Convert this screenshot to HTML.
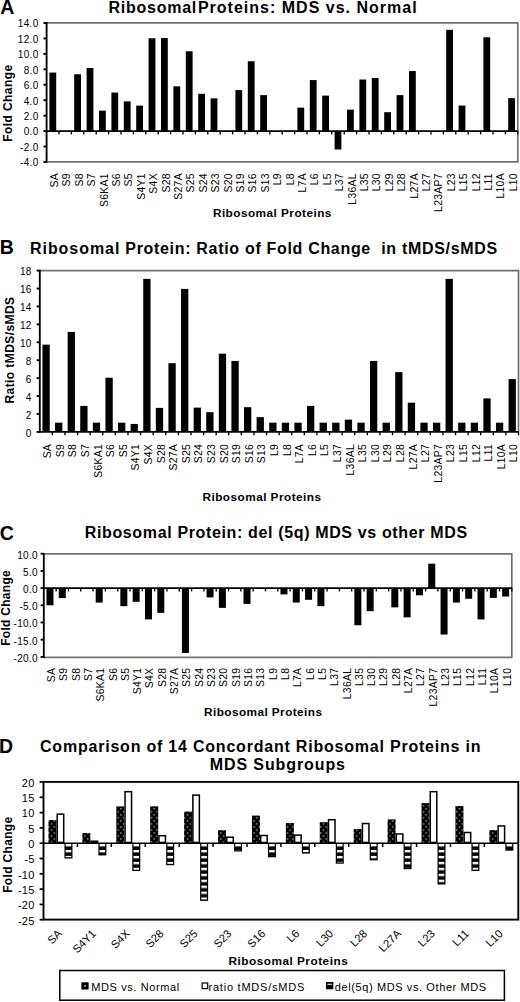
<!DOCTYPE html>
<html><head><meta charset="utf-8"><style>
html,body{margin:0;padding:0;background:#fff;width:520px;height:1002px;overflow:hidden;}
svg{display:block;font-family:"Liberation Sans",sans-serif;}
</style></head><body>
<svg width="520" height="1002" viewBox="0 0 520 1002" font-family="Liberation Sans, sans-serif">
<defs>
<pattern id="dots" patternUnits="userSpaceOnUse" width="5.55" height="6.05" x="0" y="0"><rect width="100" height="100" fill="#000"/><rect x="0.85" y="0.4" width="1.4" height="1.4" fill="#aaa"/><rect x="3.63" y="3.43" width="1.4" height="1.4" fill="#aaa"/></pattern>
<pattern id="stripes" patternUnits="userSpaceOnUse" width="20" height="5.95" x="0" y="844.0"><rect width="20" height="100" fill="#000"/><rect x="0" y="0" width="20" height="2.4" fill="#fff"/></pattern>
</defs>
<rect width="520" height="1002" fill="#fff"/>
<rect x="49.40" y="72.58" width="6.80" height="58.52" fill="#000"/>
<rect x="74.20" y="74.28" width="6.80" height="56.82" fill="#000"/>
<rect x="86.60" y="68.03" width="6.80" height="63.07" fill="#000"/>
<rect x="99.00" y="110.64" width="6.80" height="20.46" fill="#000"/>
<rect x="111.40" y="92.58" width="6.80" height="38.52" fill="#000"/>
<rect x="123.80" y="101.38" width="6.80" height="29.72" fill="#000"/>
<rect x="136.20" y="105.62" width="6.80" height="25.48" fill="#000"/>
<rect x="148.60" y="38.23" width="6.80" height="92.87" fill="#000"/>
<rect x="161.00" y="38.00" width="6.80" height="93.10" fill="#000"/>
<rect x="173.40" y="86.32" width="6.80" height="44.78" fill="#000"/>
<rect x="185.80" y="51.28" width="6.80" height="79.82" fill="#000"/>
<rect x="198.20" y="93.81" width="6.80" height="37.29" fill="#000"/>
<rect x="210.60" y="98.37" width="6.80" height="32.73" fill="#000"/>
<rect x="235.40" y="90.11" width="6.80" height="40.99" fill="#000"/>
<rect x="247.80" y="61.23" width="6.80" height="69.87" fill="#000"/>
<rect x="260.20" y="95.12" width="6.80" height="35.98" fill="#000"/>
<rect x="297.40" y="107.63" width="6.80" height="23.47" fill="#000"/>
<rect x="309.80" y="80.07" width="6.80" height="51.03" fill="#000"/>
<rect x="322.20" y="95.59" width="6.80" height="35.51" fill="#000"/>
<rect x="334.60" y="131.10" width="6.80" height="18.37" fill="#000"/>
<rect x="347.00" y="109.64" width="6.80" height="21.46" fill="#000"/>
<rect x="359.40" y="79.53" width="6.80" height="51.57" fill="#000"/>
<rect x="371.80" y="78.06" width="6.80" height="53.04" fill="#000"/>
<rect x="384.20" y="112.19" width="6.80" height="18.91" fill="#000"/>
<rect x="396.60" y="95.12" width="6.80" height="35.98" fill="#000"/>
<rect x="409.00" y="71.04" width="6.80" height="60.06" fill="#000"/>
<rect x="446.20" y="29.81" width="6.80" height="101.29" fill="#000"/>
<rect x="458.60" y="105.55" width="6.80" height="25.55" fill="#000"/>
<rect x="483.40" y="37.30" width="6.80" height="93.80" fill="#000"/>
<rect x="508.20" y="98.14" width="6.80" height="32.96" fill="#000"/>
<path d="M46.60,22.80 H517.80 V161.80 H46.60" fill="none" stroke="#707070" stroke-width="1.7" stroke-linejoin="miter"/>
<line x1="45.80" y1="131.10" x2="517.80" y2="131.10" stroke="#000" stroke-width="1.85"/>
<line x1="59.00" y1="131.10" x2="59.00" y2="134.40" stroke="#000" stroke-width="1.35"/>
<line x1="71.40" y1="131.10" x2="71.40" y2="134.40" stroke="#000" stroke-width="1.35"/>
<line x1="83.80" y1="131.10" x2="83.80" y2="134.40" stroke="#000" stroke-width="1.35"/>
<line x1="96.20" y1="131.10" x2="96.20" y2="134.40" stroke="#000" stroke-width="1.35"/>
<line x1="108.60" y1="131.10" x2="108.60" y2="134.40" stroke="#000" stroke-width="1.35"/>
<line x1="121.00" y1="131.10" x2="121.00" y2="134.40" stroke="#000" stroke-width="1.35"/>
<line x1="133.40" y1="131.10" x2="133.40" y2="134.40" stroke="#000" stroke-width="1.35"/>
<line x1="145.80" y1="131.10" x2="145.80" y2="134.40" stroke="#000" stroke-width="1.35"/>
<line x1="158.20" y1="131.10" x2="158.20" y2="134.40" stroke="#000" stroke-width="1.35"/>
<line x1="170.60" y1="131.10" x2="170.60" y2="134.40" stroke="#000" stroke-width="1.35"/>
<line x1="183.00" y1="131.10" x2="183.00" y2="134.40" stroke="#000" stroke-width="1.35"/>
<line x1="195.40" y1="131.10" x2="195.40" y2="134.40" stroke="#000" stroke-width="1.35"/>
<line x1="207.80" y1="131.10" x2="207.80" y2="134.40" stroke="#000" stroke-width="1.35"/>
<line x1="220.20" y1="131.10" x2="220.20" y2="134.40" stroke="#000" stroke-width="1.35"/>
<line x1="232.60" y1="131.10" x2="232.60" y2="134.40" stroke="#000" stroke-width="1.35"/>
<line x1="245.00" y1="131.10" x2="245.00" y2="134.40" stroke="#000" stroke-width="1.35"/>
<line x1="257.40" y1="131.10" x2="257.40" y2="134.40" stroke="#000" stroke-width="1.35"/>
<line x1="269.80" y1="131.10" x2="269.80" y2="134.40" stroke="#000" stroke-width="1.35"/>
<line x1="282.20" y1="131.10" x2="282.20" y2="134.40" stroke="#000" stroke-width="1.35"/>
<line x1="294.60" y1="131.10" x2="294.60" y2="134.40" stroke="#000" stroke-width="1.35"/>
<line x1="307.00" y1="131.10" x2="307.00" y2="134.40" stroke="#000" stroke-width="1.35"/>
<line x1="319.40" y1="131.10" x2="319.40" y2="134.40" stroke="#000" stroke-width="1.35"/>
<line x1="331.80" y1="131.10" x2="331.80" y2="134.40" stroke="#000" stroke-width="1.35"/>
<line x1="344.20" y1="131.10" x2="344.20" y2="134.40" stroke="#000" stroke-width="1.35"/>
<line x1="356.60" y1="131.10" x2="356.60" y2="134.40" stroke="#000" stroke-width="1.35"/>
<line x1="369.00" y1="131.10" x2="369.00" y2="134.40" stroke="#000" stroke-width="1.35"/>
<line x1="381.40" y1="131.10" x2="381.40" y2="134.40" stroke="#000" stroke-width="1.35"/>
<line x1="393.80" y1="131.10" x2="393.80" y2="134.40" stroke="#000" stroke-width="1.35"/>
<line x1="406.20" y1="131.10" x2="406.20" y2="134.40" stroke="#000" stroke-width="1.35"/>
<line x1="418.60" y1="131.10" x2="418.60" y2="134.40" stroke="#000" stroke-width="1.35"/>
<line x1="431.00" y1="131.10" x2="431.00" y2="134.40" stroke="#000" stroke-width="1.35"/>
<line x1="443.40" y1="131.10" x2="443.40" y2="134.40" stroke="#000" stroke-width="1.35"/>
<line x1="455.80" y1="131.10" x2="455.80" y2="134.40" stroke="#000" stroke-width="1.35"/>
<line x1="468.20" y1="131.10" x2="468.20" y2="134.40" stroke="#000" stroke-width="1.35"/>
<line x1="480.60" y1="131.10" x2="480.60" y2="134.40" stroke="#000" stroke-width="1.35"/>
<line x1="493.00" y1="131.10" x2="493.00" y2="134.40" stroke="#000" stroke-width="1.35"/>
<line x1="505.40" y1="131.10" x2="505.40" y2="134.40" stroke="#000" stroke-width="1.35"/>
<line x1="517.80" y1="131.10" x2="517.80" y2="134.40" stroke="#000" stroke-width="1.35"/>
<line x1="46.60" y1="22.00" x2="46.60" y2="162.60" stroke="#000" stroke-width="1.85"/>
<line x1="43.40" y1="23.02" x2="46.60" y2="23.02" stroke="#000" stroke-width="1.85"/>
<text x="38.50" y="27.32" font-size="10" text-anchor="end" letter-spacing="0.3">14.0</text>
<line x1="43.40" y1="38.46" x2="46.60" y2="38.46" stroke="#000" stroke-width="1.85"/>
<text x="38.50" y="42.76" font-size="10" text-anchor="end" letter-spacing="0.3">12.0</text>
<line x1="43.40" y1="53.90" x2="46.60" y2="53.90" stroke="#000" stroke-width="1.85"/>
<text x="38.50" y="58.20" font-size="10" text-anchor="end" letter-spacing="0.3">10.0</text>
<line x1="43.40" y1="69.34" x2="46.60" y2="69.34" stroke="#000" stroke-width="1.85"/>
<text x="38.50" y="73.64" font-size="10" text-anchor="end" letter-spacing="0.3">8.0</text>
<line x1="43.40" y1="84.78" x2="46.60" y2="84.78" stroke="#000" stroke-width="1.85"/>
<text x="38.50" y="89.08" font-size="10" text-anchor="end" letter-spacing="0.3">6.0</text>
<line x1="43.40" y1="100.22" x2="46.60" y2="100.22" stroke="#000" stroke-width="1.85"/>
<text x="38.50" y="104.52" font-size="10" text-anchor="end" letter-spacing="0.3">4.0</text>
<line x1="43.40" y1="115.66" x2="46.60" y2="115.66" stroke="#000" stroke-width="1.85"/>
<text x="38.50" y="119.96" font-size="10" text-anchor="end" letter-spacing="0.3">2.0</text>
<line x1="43.40" y1="131.10" x2="46.60" y2="131.10" stroke="#000" stroke-width="1.85"/>
<text x="38.50" y="135.40" font-size="10" text-anchor="end" letter-spacing="0.3">0.0</text>
<line x1="43.40" y1="146.54" x2="46.60" y2="146.54" stroke="#000" stroke-width="1.85"/>
<text x="38.50" y="150.84" font-size="10" text-anchor="end" letter-spacing="0.3">-2.0</text>
<line x1="43.40" y1="161.98" x2="46.60" y2="161.98" stroke="#000" stroke-width="1.85"/>
<text x="38.50" y="166.28" font-size="10" text-anchor="end" letter-spacing="0.3">-4.0</text>
<text x="58.00" y="173.10" font-size="10.4" text-anchor="end" transform="rotate(-90 58.00 173.10)" letter-spacing="0.3">SA</text>
<text x="70.40" y="173.10" font-size="10.4" text-anchor="end" transform="rotate(-90 70.40 173.10)" letter-spacing="0.3">S9</text>
<text x="82.80" y="173.10" font-size="10.4" text-anchor="end" transform="rotate(-90 82.80 173.10)" letter-spacing="0.3">S8</text>
<text x="95.20" y="173.10" font-size="10.4" text-anchor="end" transform="rotate(-90 95.20 173.10)" letter-spacing="0.3">S7</text>
<text x="107.60" y="173.10" font-size="10.4" text-anchor="end" transform="rotate(-90 107.60 173.10)" letter-spacing="0.3">S6KA1</text>
<text x="120.00" y="173.10" font-size="10.4" text-anchor="end" transform="rotate(-90 120.00 173.10)" letter-spacing="0.3">S6</text>
<text x="132.40" y="173.10" font-size="10.4" text-anchor="end" transform="rotate(-90 132.40 173.10)" letter-spacing="0.3">S5</text>
<text x="144.80" y="173.10" font-size="10.4" text-anchor="end" transform="rotate(-90 144.80 173.10)" letter-spacing="0.3">S4Y1</text>
<text x="157.20" y="173.10" font-size="10.4" text-anchor="end" transform="rotate(-90 157.20 173.10)" letter-spacing="0.3">S4X</text>
<text x="169.60" y="173.10" font-size="10.4" text-anchor="end" transform="rotate(-90 169.60 173.10)" letter-spacing="0.3">S28</text>
<text x="182.00" y="173.10" font-size="10.4" text-anchor="end" transform="rotate(-90 182.00 173.10)" letter-spacing="0.3">S27A</text>
<text x="194.40" y="173.10" font-size="10.4" text-anchor="end" transform="rotate(-90 194.40 173.10)" letter-spacing="0.3">S25</text>
<text x="206.80" y="173.10" font-size="10.4" text-anchor="end" transform="rotate(-90 206.80 173.10)" letter-spacing="0.3">S24</text>
<text x="219.20" y="173.10" font-size="10.4" text-anchor="end" transform="rotate(-90 219.20 173.10)" letter-spacing="0.3">S23</text>
<text x="231.60" y="173.10" font-size="10.4" text-anchor="end" transform="rotate(-90 231.60 173.10)" letter-spacing="0.3">S20</text>
<text x="244.00" y="173.10" font-size="10.4" text-anchor="end" transform="rotate(-90 244.00 173.10)" letter-spacing="0.3">S19</text>
<text x="256.40" y="173.10" font-size="10.4" text-anchor="end" transform="rotate(-90 256.40 173.10)" letter-spacing="0.3">S16</text>
<text x="268.80" y="173.10" font-size="10.4" text-anchor="end" transform="rotate(-90 268.80 173.10)" letter-spacing="0.3">S13</text>
<text x="281.20" y="173.10" font-size="10.4" text-anchor="end" transform="rotate(-90 281.20 173.10)" letter-spacing="0.3">L9</text>
<text x="293.60" y="173.10" font-size="10.4" text-anchor="end" transform="rotate(-90 293.60 173.10)" letter-spacing="0.3">L8</text>
<text x="306.00" y="173.10" font-size="10.4" text-anchor="end" transform="rotate(-90 306.00 173.10)" letter-spacing="0.3">L7A</text>
<text x="318.40" y="173.10" font-size="10.4" text-anchor="end" transform="rotate(-90 318.40 173.10)" letter-spacing="0.3">L6</text>
<text x="330.80" y="173.10" font-size="10.4" text-anchor="end" transform="rotate(-90 330.80 173.10)" letter-spacing="0.3">L5</text>
<text x="343.20" y="173.10" font-size="10.4" text-anchor="end" transform="rotate(-90 343.20 173.10)" letter-spacing="0.3">L37</text>
<text x="355.60" y="173.10" font-size="10.4" text-anchor="end" transform="rotate(-90 355.60 173.10)" letter-spacing="0.3">L36AL</text>
<text x="368.00" y="173.10" font-size="10.4" text-anchor="end" transform="rotate(-90 368.00 173.10)" letter-spacing="0.3">L35</text>
<text x="380.40" y="173.10" font-size="10.4" text-anchor="end" transform="rotate(-90 380.40 173.10)" letter-spacing="0.3">L30</text>
<text x="392.80" y="173.10" font-size="10.4" text-anchor="end" transform="rotate(-90 392.80 173.10)" letter-spacing="0.3">L29</text>
<text x="405.20" y="173.10" font-size="10.4" text-anchor="end" transform="rotate(-90 405.20 173.10)" letter-spacing="0.3">L28</text>
<text x="417.60" y="173.10" font-size="10.4" text-anchor="end" transform="rotate(-90 417.60 173.10)" letter-spacing="0.3">L27A</text>
<text x="430.00" y="173.10" font-size="10.4" text-anchor="end" transform="rotate(-90 430.00 173.10)" letter-spacing="0.3">L27</text>
<text x="442.40" y="173.10" font-size="10.4" text-anchor="end" transform="rotate(-90 442.40 173.10)" letter-spacing="0.3">L23AP7</text>
<text x="454.80" y="173.10" font-size="10.4" text-anchor="end" transform="rotate(-90 454.80 173.10)" letter-spacing="0.3">L23</text>
<text x="467.20" y="173.10" font-size="10.4" text-anchor="end" transform="rotate(-90 467.20 173.10)" letter-spacing="0.3">L15</text>
<text x="479.60" y="173.10" font-size="10.4" text-anchor="end" transform="rotate(-90 479.60 173.10)" letter-spacing="0.3">L12</text>
<text x="492.00" y="173.10" font-size="10.4" text-anchor="end" transform="rotate(-90 492.00 173.10)" letter-spacing="0.3">L11</text>
<text x="504.40" y="173.10" font-size="10.4" text-anchor="end" transform="rotate(-90 504.40 173.10)" letter-spacing="0.3">L10A</text>
<text x="516.80" y="173.10" font-size="10.4" text-anchor="end" transform="rotate(-90 516.80 173.10)" letter-spacing="0.3">L10</text>
<rect x="42.45" y="344.63" width="7.30" height="87.27" fill="#000"/>
<rect x="55.05" y="422.67" width="7.30" height="9.23" fill="#000"/>
<rect x="67.64" y="331.91" width="7.30" height="99.99" fill="#000"/>
<rect x="80.24" y="405.92" width="7.30" height="25.98" fill="#000"/>
<rect x="92.84" y="422.67" width="7.30" height="9.23" fill="#000"/>
<rect x="105.44" y="377.69" width="7.30" height="54.21" fill="#000"/>
<rect x="118.03" y="422.67" width="7.30" height="9.23" fill="#000"/>
<rect x="130.63" y="423.93" width="7.30" height="7.97" fill="#000"/>
<rect x="143.23" y="278.86" width="7.30" height="153.04" fill="#000"/>
<rect x="155.82" y="407.89" width="7.30" height="24.01" fill="#000"/>
<rect x="168.42" y="363.18" width="7.30" height="68.72" fill="#000"/>
<rect x="181.02" y="288.90" width="7.30" height="143.00" fill="#000"/>
<rect x="193.62" y="407.62" width="7.30" height="24.28" fill="#000"/>
<rect x="206.21" y="412.19" width="7.30" height="19.71" fill="#000"/>
<rect x="218.81" y="353.68" width="7.30" height="78.22" fill="#000"/>
<rect x="231.41" y="360.94" width="7.30" height="70.96" fill="#000"/>
<rect x="244.01" y="407.17" width="7.30" height="24.73" fill="#000"/>
<rect x="256.60" y="417.12" width="7.30" height="14.78" fill="#000"/>
<rect x="269.20" y="422.67" width="7.30" height="9.23" fill="#000"/>
<rect x="281.80" y="422.67" width="7.30" height="9.23" fill="#000"/>
<rect x="294.40" y="422.67" width="7.30" height="9.23" fill="#000"/>
<rect x="306.99" y="405.92" width="7.30" height="25.98" fill="#000"/>
<rect x="319.59" y="422.67" width="7.30" height="9.23" fill="#000"/>
<rect x="332.19" y="422.67" width="7.30" height="9.23" fill="#000"/>
<rect x="344.79" y="419.62" width="7.30" height="12.28" fill="#000"/>
<rect x="357.38" y="422.67" width="7.30" height="9.23" fill="#000"/>
<rect x="369.98" y="360.94" width="7.30" height="70.96" fill="#000"/>
<rect x="382.58" y="422.67" width="7.30" height="9.23" fill="#000"/>
<rect x="395.18" y="372.14" width="7.30" height="59.76" fill="#000"/>
<rect x="407.77" y="402.69" width="7.30" height="29.21" fill="#000"/>
<rect x="420.37" y="422.67" width="7.30" height="9.23" fill="#000"/>
<rect x="432.97" y="422.67" width="7.30" height="9.23" fill="#000"/>
<rect x="445.56" y="278.86" width="7.30" height="153.04" fill="#000"/>
<rect x="458.16" y="422.67" width="7.30" height="9.23" fill="#000"/>
<rect x="470.76" y="422.67" width="7.30" height="9.23" fill="#000"/>
<rect x="483.36" y="398.39" width="7.30" height="33.51" fill="#000"/>
<rect x="495.95" y="422.67" width="7.30" height="9.23" fill="#000"/>
<rect x="508.55" y="379.13" width="7.30" height="52.77" fill="#000"/>
<path d="M39.80,270.60 H518.50 V431.90" fill="none" stroke="#707070" stroke-width="1.7" stroke-linejoin="miter"/>
<line x1="39.00" y1="431.90" x2="518.50" y2="431.90" stroke="#000" stroke-width="1.85"/>
<line x1="52.40" y1="431.90" x2="52.40" y2="435.20" stroke="#000" stroke-width="1.35"/>
<line x1="64.99" y1="431.90" x2="64.99" y2="435.20" stroke="#000" stroke-width="1.35"/>
<line x1="77.59" y1="431.90" x2="77.59" y2="435.20" stroke="#000" stroke-width="1.35"/>
<line x1="90.19" y1="431.90" x2="90.19" y2="435.20" stroke="#000" stroke-width="1.35"/>
<line x1="102.79" y1="431.90" x2="102.79" y2="435.20" stroke="#000" stroke-width="1.35"/>
<line x1="115.38" y1="431.90" x2="115.38" y2="435.20" stroke="#000" stroke-width="1.35"/>
<line x1="127.98" y1="431.90" x2="127.98" y2="435.20" stroke="#000" stroke-width="1.35"/>
<line x1="140.58" y1="431.90" x2="140.58" y2="435.20" stroke="#000" stroke-width="1.35"/>
<line x1="153.18" y1="431.90" x2="153.18" y2="435.20" stroke="#000" stroke-width="1.35"/>
<line x1="165.77" y1="431.90" x2="165.77" y2="435.20" stroke="#000" stroke-width="1.35"/>
<line x1="178.37" y1="431.90" x2="178.37" y2="435.20" stroke="#000" stroke-width="1.35"/>
<line x1="190.97" y1="431.90" x2="190.97" y2="435.20" stroke="#000" stroke-width="1.35"/>
<line x1="203.57" y1="431.90" x2="203.57" y2="435.20" stroke="#000" stroke-width="1.35"/>
<line x1="216.16" y1="431.90" x2="216.16" y2="435.20" stroke="#000" stroke-width="1.35"/>
<line x1="228.76" y1="431.90" x2="228.76" y2="435.20" stroke="#000" stroke-width="1.35"/>
<line x1="241.36" y1="431.90" x2="241.36" y2="435.20" stroke="#000" stroke-width="1.35"/>
<line x1="253.96" y1="431.90" x2="253.96" y2="435.20" stroke="#000" stroke-width="1.35"/>
<line x1="266.55" y1="431.90" x2="266.55" y2="435.20" stroke="#000" stroke-width="1.35"/>
<line x1="279.15" y1="431.90" x2="279.15" y2="435.20" stroke="#000" stroke-width="1.35"/>
<line x1="291.75" y1="431.90" x2="291.75" y2="435.20" stroke="#000" stroke-width="1.35"/>
<line x1="304.34" y1="431.90" x2="304.34" y2="435.20" stroke="#000" stroke-width="1.35"/>
<line x1="316.94" y1="431.90" x2="316.94" y2="435.20" stroke="#000" stroke-width="1.35"/>
<line x1="329.54" y1="431.90" x2="329.54" y2="435.20" stroke="#000" stroke-width="1.35"/>
<line x1="342.14" y1="431.90" x2="342.14" y2="435.20" stroke="#000" stroke-width="1.35"/>
<line x1="354.73" y1="431.90" x2="354.73" y2="435.20" stroke="#000" stroke-width="1.35"/>
<line x1="367.33" y1="431.90" x2="367.33" y2="435.20" stroke="#000" stroke-width="1.35"/>
<line x1="379.93" y1="431.90" x2="379.93" y2="435.20" stroke="#000" stroke-width="1.35"/>
<line x1="392.53" y1="431.90" x2="392.53" y2="435.20" stroke="#000" stroke-width="1.35"/>
<line x1="405.12" y1="431.90" x2="405.12" y2="435.20" stroke="#000" stroke-width="1.35"/>
<line x1="417.72" y1="431.90" x2="417.72" y2="435.20" stroke="#000" stroke-width="1.35"/>
<line x1="430.32" y1="431.90" x2="430.32" y2="435.20" stroke="#000" stroke-width="1.35"/>
<line x1="442.92" y1="431.90" x2="442.92" y2="435.20" stroke="#000" stroke-width="1.35"/>
<line x1="455.51" y1="431.90" x2="455.51" y2="435.20" stroke="#000" stroke-width="1.35"/>
<line x1="468.11" y1="431.90" x2="468.11" y2="435.20" stroke="#000" stroke-width="1.35"/>
<line x1="480.71" y1="431.90" x2="480.71" y2="435.20" stroke="#000" stroke-width="1.35"/>
<line x1="493.31" y1="431.90" x2="493.31" y2="435.20" stroke="#000" stroke-width="1.35"/>
<line x1="505.90" y1="431.90" x2="505.90" y2="435.20" stroke="#000" stroke-width="1.35"/>
<line x1="518.50" y1="431.90" x2="518.50" y2="435.20" stroke="#000" stroke-width="1.35"/>
<line x1="39.80" y1="269.80" x2="39.80" y2="432.70" stroke="#000" stroke-width="1.85"/>
<line x1="36.60" y1="270.62" x2="39.80" y2="270.62" stroke="#000" stroke-width="1.85"/>
<text x="31.70" y="275.42" font-size="10" text-anchor="end" letter-spacing="0.3">18</text>
<line x1="36.60" y1="288.54" x2="39.80" y2="288.54" stroke="#000" stroke-width="1.85"/>
<text x="31.70" y="293.34" font-size="10" text-anchor="end" letter-spacing="0.3">16</text>
<line x1="36.60" y1="306.46" x2="39.80" y2="306.46" stroke="#000" stroke-width="1.85"/>
<text x="31.70" y="311.26" font-size="10" text-anchor="end" letter-spacing="0.3">14</text>
<line x1="36.60" y1="324.38" x2="39.80" y2="324.38" stroke="#000" stroke-width="1.85"/>
<text x="31.70" y="329.18" font-size="10" text-anchor="end" letter-spacing="0.3">12</text>
<line x1="36.60" y1="342.30" x2="39.80" y2="342.30" stroke="#000" stroke-width="1.85"/>
<text x="31.70" y="347.10" font-size="10" text-anchor="end" letter-spacing="0.3">10</text>
<line x1="36.60" y1="360.22" x2="39.80" y2="360.22" stroke="#000" stroke-width="1.85"/>
<text x="31.70" y="365.02" font-size="10" text-anchor="end" letter-spacing="0.3">8</text>
<line x1="36.60" y1="378.14" x2="39.80" y2="378.14" stroke="#000" stroke-width="1.85"/>
<text x="31.70" y="382.94" font-size="10" text-anchor="end" letter-spacing="0.3">6</text>
<line x1="36.60" y1="396.06" x2="39.80" y2="396.06" stroke="#000" stroke-width="1.85"/>
<text x="31.70" y="400.86" font-size="10" text-anchor="end" letter-spacing="0.3">4</text>
<line x1="36.60" y1="413.98" x2="39.80" y2="413.98" stroke="#000" stroke-width="1.85"/>
<text x="31.70" y="418.78" font-size="10" text-anchor="end" letter-spacing="0.3">2</text>
<line x1="36.60" y1="431.90" x2="39.80" y2="431.90" stroke="#000" stroke-width="1.85"/>
<text x="31.70" y="436.70" font-size="10" text-anchor="end" letter-spacing="0.3">0</text>
<text x="51.30" y="443.90" font-size="10.4" text-anchor="end" transform="rotate(-90 51.30 443.90)" letter-spacing="0.3">SA</text>
<text x="63.90" y="443.90" font-size="10.4" text-anchor="end" transform="rotate(-90 63.90 443.90)" letter-spacing="0.3">S9</text>
<text x="76.49" y="443.90" font-size="10.4" text-anchor="end" transform="rotate(-90 76.49 443.90)" letter-spacing="0.3">S8</text>
<text x="89.09" y="443.90" font-size="10.4" text-anchor="end" transform="rotate(-90 89.09 443.90)" letter-spacing="0.3">S7</text>
<text x="101.69" y="443.90" font-size="10.4" text-anchor="end" transform="rotate(-90 101.69 443.90)" letter-spacing="0.3">S6KA1</text>
<text x="114.29" y="443.90" font-size="10.4" text-anchor="end" transform="rotate(-90 114.29 443.90)" letter-spacing="0.3">S6</text>
<text x="126.88" y="443.90" font-size="10.4" text-anchor="end" transform="rotate(-90 126.88 443.90)" letter-spacing="0.3">S5</text>
<text x="139.48" y="443.90" font-size="10.4" text-anchor="end" transform="rotate(-90 139.48 443.90)" letter-spacing="0.3">S4Y1</text>
<text x="152.08" y="443.90" font-size="10.4" text-anchor="end" transform="rotate(-90 152.08 443.90)" letter-spacing="0.3">S4X</text>
<text x="164.67" y="443.90" font-size="10.4" text-anchor="end" transform="rotate(-90 164.67 443.90)" letter-spacing="0.3">S28</text>
<text x="177.27" y="443.90" font-size="10.4" text-anchor="end" transform="rotate(-90 177.27 443.90)" letter-spacing="0.3">S27A</text>
<text x="189.87" y="443.90" font-size="10.4" text-anchor="end" transform="rotate(-90 189.87 443.90)" letter-spacing="0.3">S25</text>
<text x="202.47" y="443.90" font-size="10.4" text-anchor="end" transform="rotate(-90 202.47 443.90)" letter-spacing="0.3">S24</text>
<text x="215.06" y="443.90" font-size="10.4" text-anchor="end" transform="rotate(-90 215.06 443.90)" letter-spacing="0.3">S23</text>
<text x="227.66" y="443.90" font-size="10.4" text-anchor="end" transform="rotate(-90 227.66 443.90)" letter-spacing="0.3">S20</text>
<text x="240.26" y="443.90" font-size="10.4" text-anchor="end" transform="rotate(-90 240.26 443.90)" letter-spacing="0.3">S19</text>
<text x="252.86" y="443.90" font-size="10.4" text-anchor="end" transform="rotate(-90 252.86 443.90)" letter-spacing="0.3">S16</text>
<text x="265.45" y="443.90" font-size="10.4" text-anchor="end" transform="rotate(-90 265.45 443.90)" letter-spacing="0.3">S13</text>
<text x="278.05" y="443.90" font-size="10.4" text-anchor="end" transform="rotate(-90 278.05 443.90)" letter-spacing="0.3">L9</text>
<text x="290.65" y="443.90" font-size="10.4" text-anchor="end" transform="rotate(-90 290.65 443.90)" letter-spacing="0.3">L8</text>
<text x="303.25" y="443.90" font-size="10.4" text-anchor="end" transform="rotate(-90 303.25 443.90)" letter-spacing="0.3">L7A</text>
<text x="315.84" y="443.90" font-size="10.4" text-anchor="end" transform="rotate(-90 315.84 443.90)" letter-spacing="0.3">L6</text>
<text x="328.44" y="443.90" font-size="10.4" text-anchor="end" transform="rotate(-90 328.44 443.90)" letter-spacing="0.3">L5</text>
<text x="341.04" y="443.90" font-size="10.4" text-anchor="end" transform="rotate(-90 341.04 443.90)" letter-spacing="0.3">L37</text>
<text x="353.64" y="443.90" font-size="10.4" text-anchor="end" transform="rotate(-90 353.64 443.90)" letter-spacing="0.3">L36AL</text>
<text x="366.23" y="443.90" font-size="10.4" text-anchor="end" transform="rotate(-90 366.23 443.90)" letter-spacing="0.3">L35</text>
<text x="378.83" y="443.90" font-size="10.4" text-anchor="end" transform="rotate(-90 378.83 443.90)" letter-spacing="0.3">L30</text>
<text x="391.43" y="443.90" font-size="10.4" text-anchor="end" transform="rotate(-90 391.43 443.90)" letter-spacing="0.3">L29</text>
<text x="404.02" y="443.90" font-size="10.4" text-anchor="end" transform="rotate(-90 404.02 443.90)" letter-spacing="0.3">L28</text>
<text x="416.62" y="443.90" font-size="10.4" text-anchor="end" transform="rotate(-90 416.62 443.90)" letter-spacing="0.3">L27A</text>
<text x="429.22" y="443.90" font-size="10.4" text-anchor="end" transform="rotate(-90 429.22 443.90)" letter-spacing="0.3">L27</text>
<text x="441.82" y="443.90" font-size="10.4" text-anchor="end" transform="rotate(-90 441.82 443.90)" letter-spacing="0.3">L23AP7</text>
<text x="454.41" y="443.90" font-size="10.4" text-anchor="end" transform="rotate(-90 454.41 443.90)" letter-spacing="0.3">L23</text>
<text x="467.01" y="443.90" font-size="10.4" text-anchor="end" transform="rotate(-90 467.01 443.90)" letter-spacing="0.3">L15</text>
<text x="479.61" y="443.90" font-size="10.4" text-anchor="end" transform="rotate(-90 479.61 443.90)" letter-spacing="0.3">L12</text>
<text x="492.21" y="443.90" font-size="10.4" text-anchor="end" transform="rotate(-90 492.21 443.90)" letter-spacing="0.3">L11</text>
<text x="504.80" y="443.90" font-size="10.4" text-anchor="end" transform="rotate(-90 504.80 443.90)" letter-spacing="0.3">L10A</text>
<text x="517.40" y="443.90" font-size="10.4" text-anchor="end" transform="rotate(-90 517.40 443.90)" letter-spacing="0.3">L10</text>
<rect x="46.46" y="588.10" width="7.00" height="17.20" fill="#000"/>
<rect x="58.77" y="588.10" width="7.00" height="9.98" fill="#000"/>
<rect x="95.72" y="588.10" width="7.00" height="14.45" fill="#000"/>
<rect x="120.35" y="588.10" width="7.00" height="18.06" fill="#000"/>
<rect x="132.67" y="588.10" width="7.00" height="13.76" fill="#000"/>
<rect x="144.98" y="588.10" width="7.00" height="31.30" fill="#000"/>
<rect x="157.30" y="588.10" width="7.00" height="24.77" fill="#000"/>
<rect x="181.93" y="588.10" width="7.00" height="64.84" fill="#000"/>
<rect x="206.56" y="588.10" width="7.00" height="9.29" fill="#000"/>
<rect x="218.88" y="588.10" width="7.00" height="19.78" fill="#000"/>
<rect x="243.51" y="588.10" width="7.00" height="15.82" fill="#000"/>
<rect x="280.46" y="588.10" width="7.00" height="6.30" fill="#000"/>
<rect x="292.77" y="588.10" width="7.00" height="14.45" fill="#000"/>
<rect x="305.09" y="588.10" width="7.00" height="11.70" fill="#000"/>
<rect x="317.41" y="588.10" width="7.00" height="18.06" fill="#000"/>
<rect x="354.35" y="588.10" width="7.00" height="37.15" fill="#000"/>
<rect x="366.67" y="588.10" width="7.00" height="23.05" fill="#000"/>
<rect x="391.30" y="588.10" width="7.00" height="19.26" fill="#000"/>
<rect x="403.62" y="588.10" width="7.00" height="29.24" fill="#000"/>
<rect x="415.93" y="588.10" width="7.00" height="7.22" fill="#000"/>
<rect x="428.25" y="563.68" width="7.00" height="24.42" fill="#000"/>
<rect x="440.56" y="588.10" width="7.00" height="46.44" fill="#000"/>
<rect x="452.88" y="588.10" width="7.00" height="14.45" fill="#000"/>
<rect x="465.19" y="588.10" width="7.00" height="10.66" fill="#000"/>
<rect x="477.51" y="588.10" width="7.00" height="31.30" fill="#000"/>
<rect x="489.83" y="588.10" width="7.00" height="9.80" fill="#000"/>
<rect x="502.14" y="588.10" width="7.00" height="8.43" fill="#000"/>
<path d="M43.80,553.80 H511.80 V657.30 H43.80" fill="none" stroke="#707070" stroke-width="1.7" stroke-linejoin="miter"/>
<line x1="43.00" y1="588.10" x2="511.80" y2="588.10" stroke="#000" stroke-width="1.85"/>
<line x1="56.12" y1="588.10" x2="56.12" y2="591.40" stroke="#000" stroke-width="1.35"/>
<line x1="68.43" y1="588.10" x2="68.43" y2="591.40" stroke="#000" stroke-width="1.35"/>
<line x1="80.75" y1="588.10" x2="80.75" y2="591.40" stroke="#000" stroke-width="1.35"/>
<line x1="93.06" y1="588.10" x2="93.06" y2="591.40" stroke="#000" stroke-width="1.35"/>
<line x1="105.38" y1="588.10" x2="105.38" y2="591.40" stroke="#000" stroke-width="1.35"/>
<line x1="117.69" y1="588.10" x2="117.69" y2="591.40" stroke="#000" stroke-width="1.35"/>
<line x1="130.01" y1="588.10" x2="130.01" y2="591.40" stroke="#000" stroke-width="1.35"/>
<line x1="142.33" y1="588.10" x2="142.33" y2="591.40" stroke="#000" stroke-width="1.35"/>
<line x1="154.64" y1="588.10" x2="154.64" y2="591.40" stroke="#000" stroke-width="1.35"/>
<line x1="166.96" y1="588.10" x2="166.96" y2="591.40" stroke="#000" stroke-width="1.35"/>
<line x1="179.27" y1="588.10" x2="179.27" y2="591.40" stroke="#000" stroke-width="1.35"/>
<line x1="191.59" y1="588.10" x2="191.59" y2="591.40" stroke="#000" stroke-width="1.35"/>
<line x1="203.91" y1="588.10" x2="203.91" y2="591.40" stroke="#000" stroke-width="1.35"/>
<line x1="216.22" y1="588.10" x2="216.22" y2="591.40" stroke="#000" stroke-width="1.35"/>
<line x1="228.54" y1="588.10" x2="228.54" y2="591.40" stroke="#000" stroke-width="1.35"/>
<line x1="240.85" y1="588.10" x2="240.85" y2="591.40" stroke="#000" stroke-width="1.35"/>
<line x1="253.17" y1="588.10" x2="253.17" y2="591.40" stroke="#000" stroke-width="1.35"/>
<line x1="265.48" y1="588.10" x2="265.48" y2="591.40" stroke="#000" stroke-width="1.35"/>
<line x1="277.80" y1="588.10" x2="277.80" y2="591.40" stroke="#000" stroke-width="1.35"/>
<line x1="290.12" y1="588.10" x2="290.12" y2="591.40" stroke="#000" stroke-width="1.35"/>
<line x1="302.43" y1="588.10" x2="302.43" y2="591.40" stroke="#000" stroke-width="1.35"/>
<line x1="314.75" y1="588.10" x2="314.75" y2="591.40" stroke="#000" stroke-width="1.35"/>
<line x1="327.06" y1="588.10" x2="327.06" y2="591.40" stroke="#000" stroke-width="1.35"/>
<line x1="339.38" y1="588.10" x2="339.38" y2="591.40" stroke="#000" stroke-width="1.35"/>
<line x1="351.69" y1="588.10" x2="351.69" y2="591.40" stroke="#000" stroke-width="1.35"/>
<line x1="364.01" y1="588.10" x2="364.01" y2="591.40" stroke="#000" stroke-width="1.35"/>
<line x1="376.33" y1="588.10" x2="376.33" y2="591.40" stroke="#000" stroke-width="1.35"/>
<line x1="388.64" y1="588.10" x2="388.64" y2="591.40" stroke="#000" stroke-width="1.35"/>
<line x1="400.96" y1="588.10" x2="400.96" y2="591.40" stroke="#000" stroke-width="1.35"/>
<line x1="413.27" y1="588.10" x2="413.27" y2="591.40" stroke="#000" stroke-width="1.35"/>
<line x1="425.59" y1="588.10" x2="425.59" y2="591.40" stroke="#000" stroke-width="1.35"/>
<line x1="437.91" y1="588.10" x2="437.91" y2="591.40" stroke="#000" stroke-width="1.35"/>
<line x1="450.22" y1="588.10" x2="450.22" y2="591.40" stroke="#000" stroke-width="1.35"/>
<line x1="462.54" y1="588.10" x2="462.54" y2="591.40" stroke="#000" stroke-width="1.35"/>
<line x1="474.85" y1="588.10" x2="474.85" y2="591.40" stroke="#000" stroke-width="1.35"/>
<line x1="487.17" y1="588.10" x2="487.17" y2="591.40" stroke="#000" stroke-width="1.35"/>
<line x1="499.48" y1="588.10" x2="499.48" y2="591.40" stroke="#000" stroke-width="1.35"/>
<line x1="511.80" y1="588.10" x2="511.80" y2="591.40" stroke="#000" stroke-width="1.35"/>
<line x1="43.80" y1="553.00" x2="43.80" y2="658.10" stroke="#000" stroke-width="1.85"/>
<line x1="40.60" y1="553.70" x2="43.80" y2="553.70" stroke="#000" stroke-width="1.85"/>
<text x="37.90" y="558.50" font-size="10" text-anchor="end" letter-spacing="0.3">10.0</text>
<line x1="40.60" y1="570.90" x2="43.80" y2="570.90" stroke="#000" stroke-width="1.85"/>
<text x="37.90" y="575.70" font-size="10" text-anchor="end" letter-spacing="0.3">5.0</text>
<line x1="40.60" y1="588.10" x2="43.80" y2="588.10" stroke="#000" stroke-width="1.85"/>
<text x="37.90" y="592.90" font-size="10" text-anchor="end" letter-spacing="0.3">0.0</text>
<line x1="40.60" y1="605.30" x2="43.80" y2="605.30" stroke="#000" stroke-width="1.85"/>
<text x="37.90" y="610.10" font-size="10" text-anchor="end" letter-spacing="0.3">-5.0</text>
<line x1="40.60" y1="622.50" x2="43.80" y2="622.50" stroke="#000" stroke-width="1.85"/>
<text x="37.90" y="627.30" font-size="10" text-anchor="end" letter-spacing="0.3">-10.0</text>
<line x1="40.60" y1="639.70" x2="43.80" y2="639.70" stroke="#000" stroke-width="1.85"/>
<text x="37.90" y="644.50" font-size="10" text-anchor="end" letter-spacing="0.3">-15.0</text>
<line x1="40.60" y1="656.90" x2="43.80" y2="656.90" stroke="#000" stroke-width="1.85"/>
<text x="37.90" y="661.70" font-size="10" text-anchor="end" letter-spacing="0.3">-20.0</text>
<text x="54.96" y="667.70" font-size="10.4" text-anchor="end" transform="rotate(-90 54.96 667.70)" letter-spacing="0.3">SA</text>
<text x="67.27" y="667.70" font-size="10.4" text-anchor="end" transform="rotate(-90 67.27 667.70)" letter-spacing="0.3">S9</text>
<text x="79.59" y="667.70" font-size="10.4" text-anchor="end" transform="rotate(-90 79.59 667.70)" letter-spacing="0.3">S8</text>
<text x="91.91" y="667.70" font-size="10.4" text-anchor="end" transform="rotate(-90 91.91 667.70)" letter-spacing="0.3">S7</text>
<text x="104.22" y="667.70" font-size="10.4" text-anchor="end" transform="rotate(-90 104.22 667.70)" letter-spacing="0.3">S6KA1</text>
<text x="116.54" y="667.70" font-size="10.4" text-anchor="end" transform="rotate(-90 116.54 667.70)" letter-spacing="0.3">S6</text>
<text x="128.85" y="667.70" font-size="10.4" text-anchor="end" transform="rotate(-90 128.85 667.70)" letter-spacing="0.3">S5</text>
<text x="141.17" y="667.70" font-size="10.4" text-anchor="end" transform="rotate(-90 141.17 667.70)" letter-spacing="0.3">S4Y1</text>
<text x="153.48" y="667.70" font-size="10.4" text-anchor="end" transform="rotate(-90 153.48 667.70)" letter-spacing="0.3">S4X</text>
<text x="165.80" y="667.70" font-size="10.4" text-anchor="end" transform="rotate(-90 165.80 667.70)" letter-spacing="0.3">S28</text>
<text x="178.12" y="667.70" font-size="10.4" text-anchor="end" transform="rotate(-90 178.12 667.70)" letter-spacing="0.3">S27A</text>
<text x="190.43" y="667.70" font-size="10.4" text-anchor="end" transform="rotate(-90 190.43 667.70)" letter-spacing="0.3">S25</text>
<text x="202.75" y="667.70" font-size="10.4" text-anchor="end" transform="rotate(-90 202.75 667.70)" letter-spacing="0.3">S24</text>
<text x="215.06" y="667.70" font-size="10.4" text-anchor="end" transform="rotate(-90 215.06 667.70)" letter-spacing="0.3">S23</text>
<text x="227.38" y="667.70" font-size="10.4" text-anchor="end" transform="rotate(-90 227.38 667.70)" letter-spacing="0.3">S20</text>
<text x="239.69" y="667.70" font-size="10.4" text-anchor="end" transform="rotate(-90 239.69 667.70)" letter-spacing="0.3">S19</text>
<text x="252.01" y="667.70" font-size="10.4" text-anchor="end" transform="rotate(-90 252.01 667.70)" letter-spacing="0.3">S16</text>
<text x="264.33" y="667.70" font-size="10.4" text-anchor="end" transform="rotate(-90 264.33 667.70)" letter-spacing="0.3">S13</text>
<text x="276.64" y="667.70" font-size="10.4" text-anchor="end" transform="rotate(-90 276.64 667.70)" letter-spacing="0.3">L9</text>
<text x="288.96" y="667.70" font-size="10.4" text-anchor="end" transform="rotate(-90 288.96 667.70)" letter-spacing="0.3">L8</text>
<text x="301.27" y="667.70" font-size="10.4" text-anchor="end" transform="rotate(-90 301.27 667.70)" letter-spacing="0.3">L7A</text>
<text x="313.59" y="667.70" font-size="10.4" text-anchor="end" transform="rotate(-90 313.59 667.70)" letter-spacing="0.3">L6</text>
<text x="325.91" y="667.70" font-size="10.4" text-anchor="end" transform="rotate(-90 325.91 667.70)" letter-spacing="0.3">L5</text>
<text x="338.22" y="667.70" font-size="10.4" text-anchor="end" transform="rotate(-90 338.22 667.70)" letter-spacing="0.3">L37</text>
<text x="350.54" y="667.70" font-size="10.4" text-anchor="end" transform="rotate(-90 350.54 667.70)" letter-spacing="0.3">L36AL</text>
<text x="362.85" y="667.70" font-size="10.4" text-anchor="end" transform="rotate(-90 362.85 667.70)" letter-spacing="0.3">L35</text>
<text x="375.17" y="667.70" font-size="10.4" text-anchor="end" transform="rotate(-90 375.17 667.70)" letter-spacing="0.3">L30</text>
<text x="387.48" y="667.70" font-size="10.4" text-anchor="end" transform="rotate(-90 387.48 667.70)" letter-spacing="0.3">L29</text>
<text x="399.80" y="667.70" font-size="10.4" text-anchor="end" transform="rotate(-90 399.80 667.70)" letter-spacing="0.3">L28</text>
<text x="412.12" y="667.70" font-size="10.4" text-anchor="end" transform="rotate(-90 412.12 667.70)" letter-spacing="0.3">L27A</text>
<text x="424.43" y="667.70" font-size="10.4" text-anchor="end" transform="rotate(-90 424.43 667.70)" letter-spacing="0.3">L27</text>
<text x="436.75" y="667.70" font-size="10.4" text-anchor="end" transform="rotate(-90 436.75 667.70)" letter-spacing="0.3">L23AP7</text>
<text x="449.06" y="667.70" font-size="10.4" text-anchor="end" transform="rotate(-90 449.06 667.70)" letter-spacing="0.3">L23</text>
<text x="461.38" y="667.70" font-size="10.4" text-anchor="end" transform="rotate(-90 461.38 667.70)" letter-spacing="0.3">L15</text>
<text x="473.69" y="667.70" font-size="10.4" text-anchor="end" transform="rotate(-90 473.69 667.70)" letter-spacing="0.3">L12</text>
<text x="486.01" y="667.70" font-size="10.4" text-anchor="end" transform="rotate(-90 486.01 667.70)" letter-spacing="0.3">L11</text>
<text x="498.33" y="667.70" font-size="10.4" text-anchor="end" transform="rotate(-90 498.33 667.70)" letter-spacing="0.3">L10A</text>
<text x="510.64" y="667.70" font-size="10.4" text-anchor="end" transform="rotate(-90 510.64 667.70)" letter-spacing="0.3">L10</text>
<rect x="48.46" y="820.01" width="8.00" height="23.19" fill="url(#dots)"/>
<rect x="57.21" y="814.15" width="6.50" height="28.30" fill="#fff" stroke="#000" stroke-width="1.5"/>
<rect x="64.46" y="843.20" width="8.00" height="15.30" fill="#000"/>
<rect x="65.66" y="843.20" width="5.60" height="14.00" fill="url(#stripes)"/>
<rect x="82.37" y="833.10" width="8.00" height="10.10" fill="url(#dots)"/>
<rect x="91.12" y="841.23" width="6.50" height="1.22" fill="#fff" stroke="#000" stroke-width="1.5"/>
<rect x="98.37" y="843.20" width="8.00" height="12.24" fill="#000"/>
<rect x="99.57" y="843.20" width="5.60" height="10.94" fill="url(#stripes)"/>
<rect x="116.29" y="806.39" width="8.00" height="36.81" fill="url(#dots)"/>
<rect x="125.04" y="791.69" width="6.50" height="50.76" fill="#fff" stroke="#000" stroke-width="1.5"/>
<rect x="132.29" y="843.20" width="8.00" height="27.85" fill="#000"/>
<rect x="133.49" y="843.20" width="5.60" height="26.55" fill="url(#stripes)"/>
<rect x="150.20" y="806.30" width="8.00" height="36.90" fill="url(#dots)"/>
<rect x="158.95" y="835.75" width="6.50" height="6.70" fill="#fff" stroke="#000" stroke-width="1.5"/>
<rect x="166.20" y="843.20" width="8.00" height="22.03" fill="#000"/>
<rect x="167.40" y="843.20" width="5.60" height="20.73" fill="url(#stripes)"/>
<rect x="184.11" y="811.56" width="8.00" height="31.64" fill="url(#dots)"/>
<rect x="192.86" y="795.11" width="6.50" height="47.34" fill="#fff" stroke="#000" stroke-width="1.5"/>
<rect x="200.11" y="843.20" width="8.00" height="57.68" fill="#000"/>
<rect x="201.31" y="843.20" width="5.60" height="56.38" fill="url(#stripes)"/>
<rect x="218.03" y="830.23" width="8.00" height="12.97" fill="url(#dots)"/>
<rect x="226.78" y="837.22" width="6.50" height="5.23" fill="#fff" stroke="#000" stroke-width="1.5"/>
<rect x="234.03" y="843.20" width="8.00" height="8.26" fill="#000"/>
<rect x="235.23" y="843.20" width="5.60" height="6.96" fill="url(#stripes)"/>
<rect x="251.94" y="815.51" width="8.00" height="27.69" fill="url(#dots)"/>
<rect x="260.69" y="835.50" width="6.50" height="6.95" fill="#fff" stroke="#000" stroke-width="1.5"/>
<rect x="267.94" y="843.20" width="8.00" height="14.08" fill="#000"/>
<rect x="269.14" y="843.20" width="5.60" height="12.78" fill="url(#stripes)"/>
<rect x="285.86" y="822.97" width="8.00" height="20.23" fill="url(#dots)"/>
<rect x="294.61" y="835.08" width="6.50" height="7.37" fill="#fff" stroke="#000" stroke-width="1.5"/>
<rect x="301.86" y="843.20" width="8.00" height="10.40" fill="#000"/>
<rect x="303.06" y="843.20" width="5.60" height="9.10" fill="url(#stripes)"/>
<rect x="319.77" y="822.18" width="8.00" height="21.02" fill="url(#dots)"/>
<rect x="328.52" y="819.71" width="6.50" height="22.74" fill="#fff" stroke="#000" stroke-width="1.5"/>
<rect x="335.77" y="843.20" width="8.00" height="20.50" fill="#000"/>
<rect x="336.97" y="843.20" width="5.60" height="19.20" fill="url(#stripes)"/>
<rect x="353.69" y="828.94" width="8.00" height="14.26" fill="url(#dots)"/>
<rect x="362.44" y="823.54" width="6.50" height="18.91" fill="#fff" stroke="#000" stroke-width="1.5"/>
<rect x="369.69" y="843.20" width="8.00" height="17.14" fill="#000"/>
<rect x="370.89" y="843.20" width="5.60" height="15.84" fill="url(#stripes)"/>
<rect x="387.60" y="819.39" width="8.00" height="23.81" fill="url(#dots)"/>
<rect x="396.35" y="833.97" width="6.50" height="8.48" fill="#fff" stroke="#000" stroke-width="1.5"/>
<rect x="403.60" y="843.20" width="8.00" height="26.01" fill="#000"/>
<rect x="404.80" y="843.20" width="5.60" height="24.71" fill="url(#stripes)"/>
<rect x="421.51" y="803.05" width="8.00" height="40.15" fill="url(#dots)"/>
<rect x="430.26" y="791.69" width="6.50" height="50.76" fill="#fff" stroke="#000" stroke-width="1.5"/>
<rect x="437.51" y="843.20" width="8.00" height="41.31" fill="#000"/>
<rect x="438.71" y="843.20" width="5.60" height="40.01" fill="url(#stripes)"/>
<rect x="455.43" y="806.02" width="8.00" height="37.18" fill="url(#dots)"/>
<rect x="464.18" y="832.51" width="6.50" height="9.94" fill="#fff" stroke="#000" stroke-width="1.5"/>
<rect x="471.43" y="843.20" width="8.00" height="27.85" fill="#000"/>
<rect x="472.63" y="843.20" width="5.60" height="26.55" fill="url(#stripes)"/>
<rect x="489.34" y="830.13" width="8.00" height="13.07" fill="url(#dots)"/>
<rect x="498.09" y="825.93" width="6.50" height="16.52" fill="#fff" stroke="#000" stroke-width="1.5"/>
<rect x="505.34" y="843.20" width="8.00" height="7.50" fill="#000"/>
<rect x="506.54" y="843.20" width="5.60" height="6.20" fill="url(#stripes)"/>
<rect x="43.50" y="781.90" width="474.80" height="137.70" fill="none" stroke="#000" stroke-width="1.9"/>
<line x1="43.50" y1="843.20" x2="518.30" y2="843.20" stroke="#000" stroke-width="1.6"/>
<line x1="77.41" y1="843.20" x2="77.41" y2="847.00" stroke="#000" stroke-width="1.5"/>
<line x1="111.33" y1="843.20" x2="111.33" y2="847.00" stroke="#000" stroke-width="1.5"/>
<line x1="145.24" y1="843.20" x2="145.24" y2="847.00" stroke="#000" stroke-width="1.5"/>
<line x1="179.16" y1="843.20" x2="179.16" y2="847.00" stroke="#000" stroke-width="1.5"/>
<line x1="213.07" y1="843.20" x2="213.07" y2="847.00" stroke="#000" stroke-width="1.5"/>
<line x1="246.99" y1="843.20" x2="246.99" y2="847.00" stroke="#000" stroke-width="1.5"/>
<line x1="280.90" y1="843.20" x2="280.90" y2="847.00" stroke="#000" stroke-width="1.5"/>
<line x1="314.81" y1="843.20" x2="314.81" y2="847.00" stroke="#000" stroke-width="1.5"/>
<line x1="348.73" y1="843.20" x2="348.73" y2="847.00" stroke="#000" stroke-width="1.5"/>
<line x1="382.64" y1="843.20" x2="382.64" y2="847.00" stroke="#000" stroke-width="1.5"/>
<line x1="416.56" y1="843.20" x2="416.56" y2="847.00" stroke="#000" stroke-width="1.5"/>
<line x1="450.47" y1="843.20" x2="450.47" y2="847.00" stroke="#000" stroke-width="1.5"/>
<line x1="484.39" y1="843.20" x2="484.39" y2="847.00" stroke="#000" stroke-width="1.5"/>
<line x1="39.60" y1="782.00" x2="43.50" y2="782.00" stroke="#000" stroke-width="1.7"/>
<text x="34.60" y="786.80" font-size="11" text-anchor="end" letter-spacing="0.25">20</text>
<line x1="39.60" y1="797.30" x2="43.50" y2="797.30" stroke="#000" stroke-width="1.7"/>
<text x="34.60" y="802.10" font-size="11" text-anchor="end" letter-spacing="0.25">15</text>
<line x1="39.60" y1="812.60" x2="43.50" y2="812.60" stroke="#000" stroke-width="1.7"/>
<text x="34.60" y="817.40" font-size="11" text-anchor="end" letter-spacing="0.25">10</text>
<line x1="39.60" y1="827.90" x2="43.50" y2="827.90" stroke="#000" stroke-width="1.7"/>
<text x="34.60" y="832.70" font-size="11" text-anchor="end" letter-spacing="0.25">5</text>
<line x1="39.60" y1="843.20" x2="43.50" y2="843.20" stroke="#000" stroke-width="1.7"/>
<text x="34.60" y="848.00" font-size="11" text-anchor="end" letter-spacing="0.25">0</text>
<line x1="39.60" y1="858.50" x2="43.50" y2="858.50" stroke="#000" stroke-width="1.7"/>
<text x="34.60" y="863.30" font-size="11" text-anchor="end" letter-spacing="0.25">-5</text>
<line x1="39.60" y1="873.80" x2="43.50" y2="873.80" stroke="#000" stroke-width="1.7"/>
<text x="34.60" y="878.60" font-size="11" text-anchor="end" letter-spacing="0.25">-10</text>
<line x1="39.60" y1="889.10" x2="43.50" y2="889.10" stroke="#000" stroke-width="1.7"/>
<text x="34.60" y="893.90" font-size="11" text-anchor="end" letter-spacing="0.25">-15</text>
<line x1="39.60" y1="904.40" x2="43.50" y2="904.40" stroke="#000" stroke-width="1.7"/>
<text x="34.60" y="909.20" font-size="11" text-anchor="end" letter-spacing="0.25">-20</text>
<line x1="39.60" y1="919.70" x2="43.50" y2="919.70" stroke="#000" stroke-width="1.7"/>
<text x="34.60" y="924.50" font-size="11" text-anchor="end" letter-spacing="0.25">-25</text>
<text x="62.66" y="934.30" font-size="11.2" text-anchor="end" transform="rotate(-45 62.66 934.30)">SA</text>
<text x="96.57" y="934.30" font-size="11.2" text-anchor="end" transform="rotate(-45 96.57 934.30)">S4Y1</text>
<text x="130.49" y="934.30" font-size="11.2" text-anchor="end" transform="rotate(-45 130.49 934.30)">S4X</text>
<text x="164.40" y="934.30" font-size="11.2" text-anchor="end" transform="rotate(-45 164.40 934.30)">S28</text>
<text x="198.31" y="934.30" font-size="11.2" text-anchor="end" transform="rotate(-45 198.31 934.30)">S25</text>
<text x="232.23" y="934.30" font-size="11.2" text-anchor="end" transform="rotate(-45 232.23 934.30)">S23</text>
<text x="266.14" y="934.30" font-size="11.2" text-anchor="end" transform="rotate(-45 266.14 934.30)">S16</text>
<text x="300.06" y="934.30" font-size="11.2" text-anchor="end" transform="rotate(-45 300.06 934.30)">L6</text>
<text x="333.97" y="934.30" font-size="11.2" text-anchor="end" transform="rotate(-45 333.97 934.30)">L30</text>
<text x="367.89" y="934.30" font-size="11.2" text-anchor="end" transform="rotate(-45 367.89 934.30)">L28</text>
<text x="401.80" y="934.30" font-size="11.2" text-anchor="end" transform="rotate(-45 401.80 934.30)">L27A</text>
<text x="435.71" y="934.30" font-size="11.2" text-anchor="end" transform="rotate(-45 435.71 934.30)">L23</text>
<text x="469.63" y="934.30" font-size="11.2" text-anchor="end" transform="rotate(-45 469.63 934.30)">L11</text>
<text x="503.54" y="934.30" font-size="11.2" text-anchor="end" transform="rotate(-45 503.54 934.30)">L10</text>
<text x="0.30" y="13.80" font-size="19.5" font-weight="bold">A</text>
<text x="-0.25" y="254.20" font-size="19.5" font-weight="bold">B</text>
<text x="-0.30" y="540.30" font-size="19.5" font-weight="bold">C</text>
<text x="-1.00" y="753.30" font-size="19.5" font-weight="bold">D</text>
<text x="108.45" y="13.30" font-size="16" font-weight="bold" textLength="87.80" lengthAdjust="spacing">Ribosomal</text>
<text x="197.90" y="13.30" font-size="16" font-weight="bold" textLength="218.80" lengthAdjust="spacing">Proteins: MDS vs. Normal</text>
<text x="30.00" y="253.50" font-size="16" font-weight="bold" textLength="89.40" lengthAdjust="spacing">Ribosomal</text>
<text x="125.30" y="253.50" font-size="16" font-weight="bold" textLength="371.90" lengthAdjust="spacing" style="white-space:pre">Protein: Ratio of Fold Change  in tMDS/sMDS</text>
<text x="84.70" y="537.80" font-size="16" font-weight="bold" textLength="382.40" lengthAdjust="spacing">Ribosomal Protein: del (5q) MDS vs other MDS</text>
<text x="40.00" y="752.00" font-size="16" font-weight="bold" textLength="440.50" lengthAdjust="spacing">Comparison of 14 Concordant Ribosomal Proteins in</text>
<text x="209.70" y="770.40" font-size="16" font-weight="bold" textLength="135.30" lengthAdjust="spacing">MDS Subgroups</text>
<text x="212.90" y="217.00" font-size="11.8" font-weight="bold" textLength="118.50" lengthAdjust="spacing">Ribosomal Proteins</text>
<text x="202.50" y="500.50" font-size="11.8" font-weight="bold" textLength="118.50" lengthAdjust="spacing">Ribosomal Proteins</text>
<text x="204.00" y="716.00" font-size="11.8" font-weight="bold" textLength="118.00" lengthAdjust="spacing">Ribosomal Proteins</text>
<text x="228.40" y="965.20" font-size="11.8" font-weight="bold" textLength="119.30" lengthAdjust="spacing">Ribosomal Proteins</text>
<text x="12.10" y="141.80" font-size="12" font-weight="bold" textLength="77.00" lengthAdjust="spacing" transform="rotate(-90 12.10 141.80)">Fold Change</text>
<text x="13.70" y="403.50" font-size="12" font-weight="bold" textLength="106.50" lengthAdjust="spacing" transform="rotate(-90 13.70 403.50)">Ratio tMDS/sMDS</text>
<text x="9.80" y="645.80" font-size="12" font-weight="bold" textLength="75.50" lengthAdjust="spacing" transform="rotate(-90 9.80 645.80)">Fold Change</text>
<text x="11.80" y="892.80" font-size="12" font-weight="bold" textLength="76.00" lengthAdjust="spacing" transform="rotate(-90 11.80 892.80)">Fold Change</text>
<rect x="59.80" y="970.50" width="444.60" height="29.70" fill="none" stroke="#000" stroke-width="1.5"/>
<rect x="81.40" y="982.30" width="7.20" height="7.20" fill="#000"/>
<rect x="84.30" y="985.20" width="1.40" height="1.40" fill="#fff"/>
<text x="91.20" y="990.60" font-size="11" textLength="88.00" lengthAdjust="spacing">MDS vs. Normal</text>
<rect x="202.10" y="983.00" width="5.60" height="5.60" fill="#fff" stroke="#000" stroke-width="1.2"/>
<text x="208.50" y="990.60" font-size="11" textLength="95.80" lengthAdjust="spacing">ratio tMDS/sMDS</text>
<rect x="326.00" y="982.00" width="7.30" height="7.30" fill="#000"/>
<rect x="327.40" y="983.70" width="4.50" height="1.30" fill="#ccc"/>
<text x="334.80" y="990.60" font-size="11" textLength="151.40" lengthAdjust="spacing">del(5q) MDS vs. Other MDS</text>
</svg>
</body></html>
